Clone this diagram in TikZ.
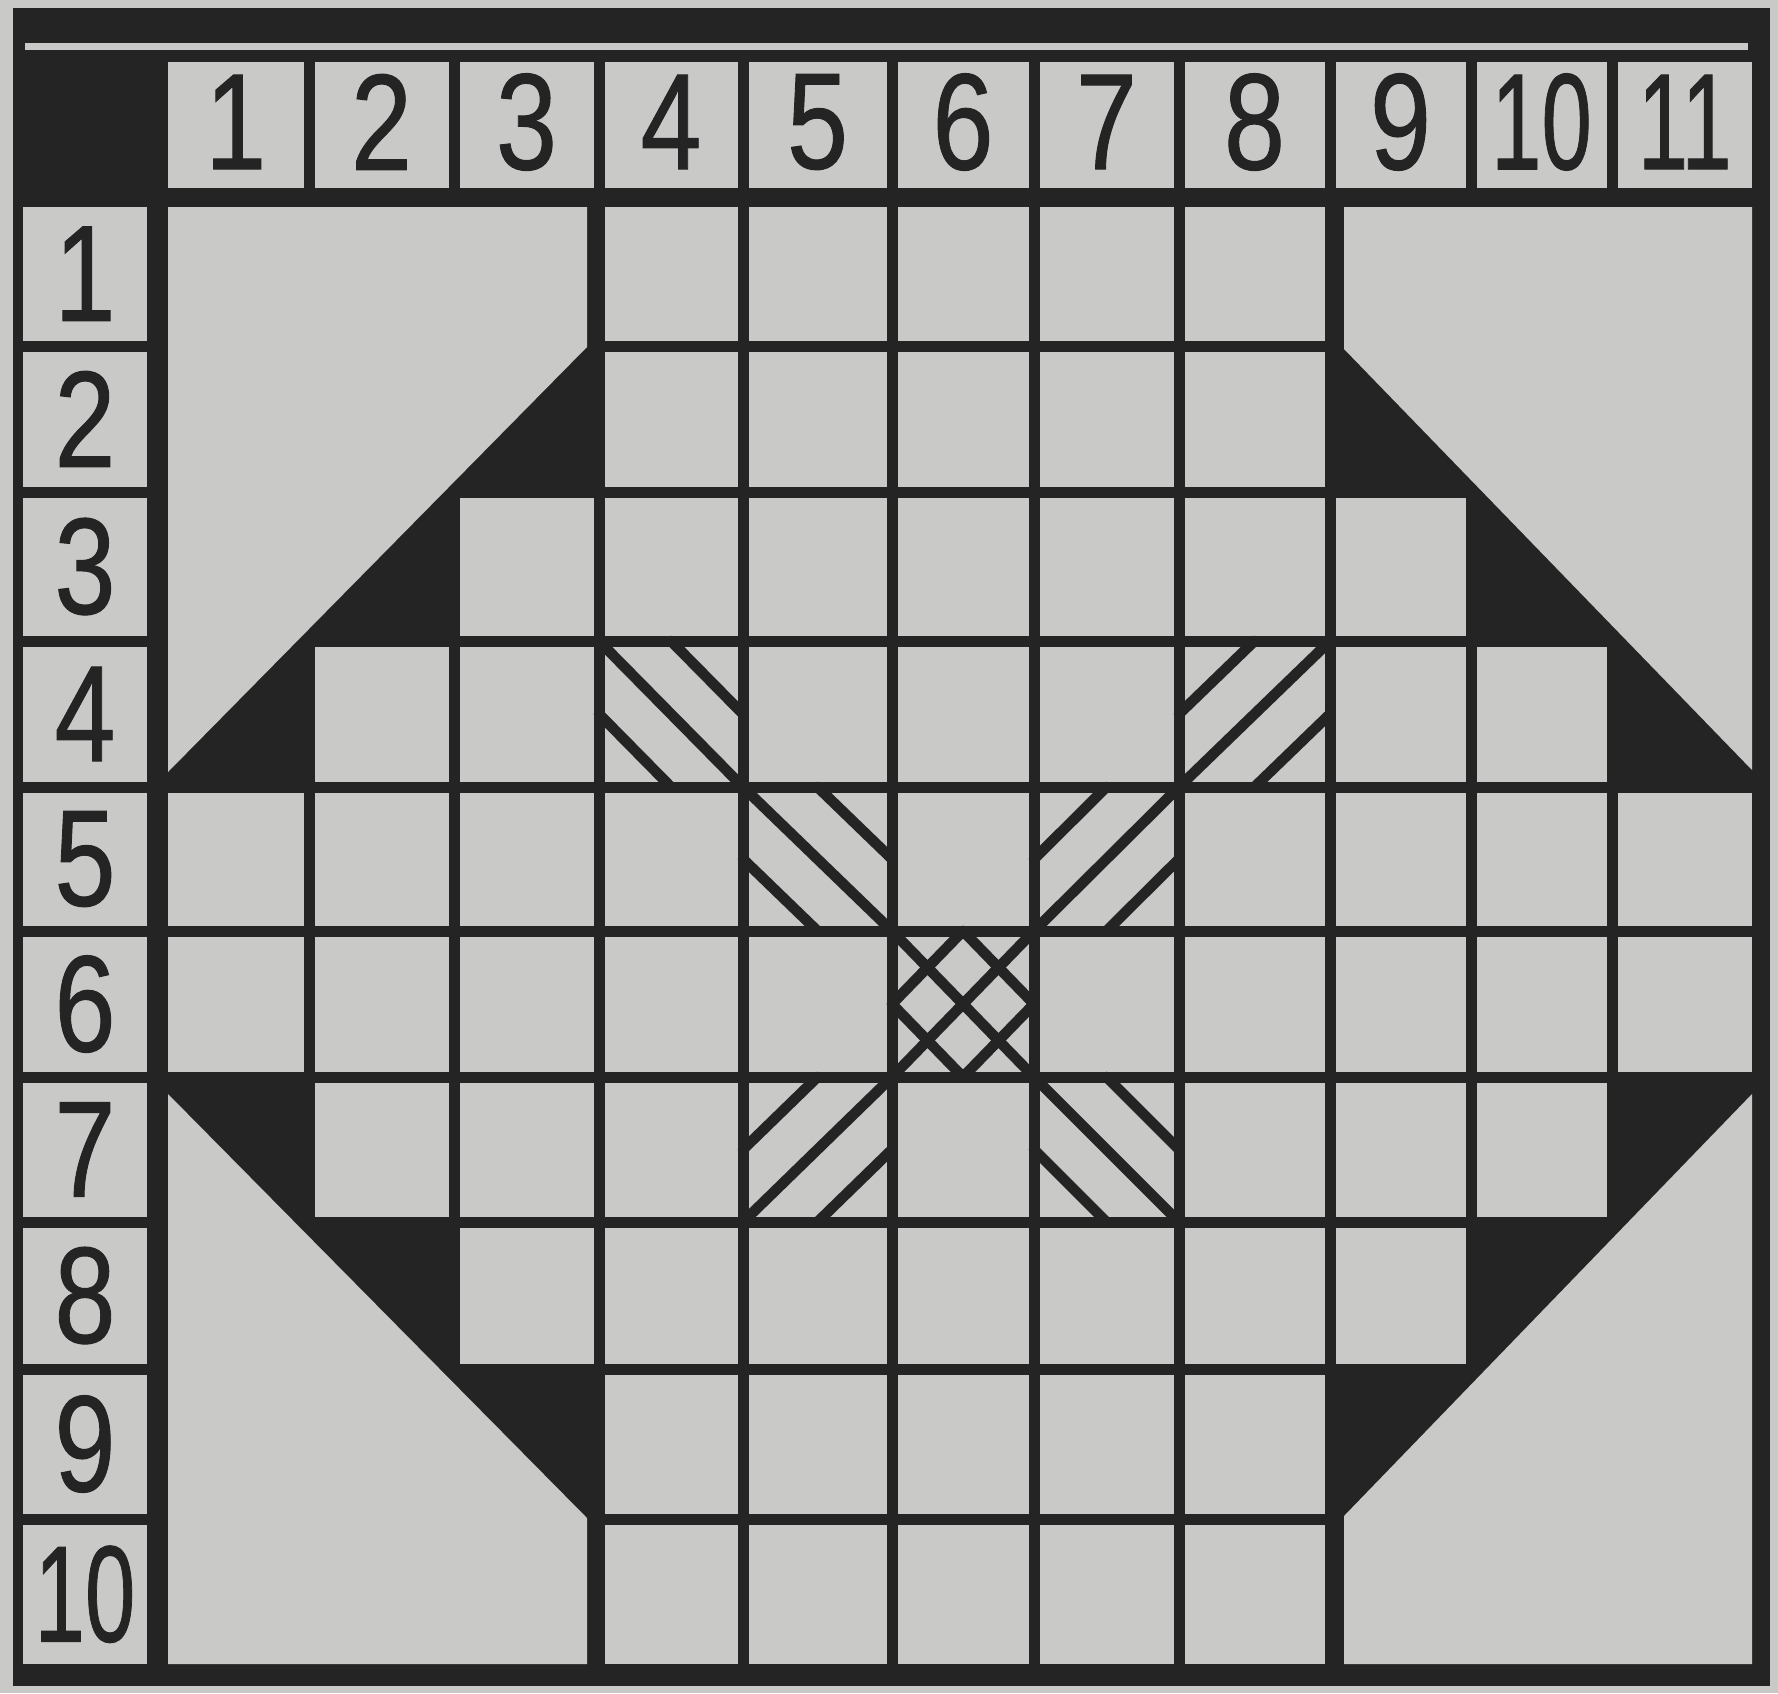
\documentclass[tikz,border=0pt]{standalone}
\usepackage{fontspec}
\usepackage{graphicx}
\usepackage{tikz}
\usetikzlibrary{calc}
\newfontfamily\digitfont[FakeBold=0.8]{Liberation Sans}
\definecolor{paper}{RGB}{201,201,199}
\definecolor{ink}{RGB}{36,36,36}
\tikzset{
  board/cell/.style={fill=paper},
  board/hatch/.style={draw=ink, line width=3pt, line cap=round},
  board/num/.style={inner sep=0pt, text=ink, font=\digitfont\fontsize{39}{39}\selectfont}
}
% corners of cell (row, column), taken from the grid coordinates
\newcommand{\cellcorners}[2]{%
  \pgfmathtruncatemacro{\hatchrow}{#1-1}%
  \pgfmathtruncatemacro{\hatchcol}{#2-1}%
  \coordinate (tl) at (g-\hatchrow-\hatchcol);
  \coordinate (tr) at (g-\hatchrow-#2);
  \coordinate (bl) at (g-#1-\hatchcol);
  \coordinate (br) at (g-#1-#2);
}
\newcommand{\backhatch}[2]{\cellcorners{#1}{#2}
  \draw[board/hatch] (tl) -- (br);
  \draw[board/hatch] ($(tl)!.5!(tr)$) -- ($(tr)!.5!(br)$);
  \draw[board/hatch] ($(tl)!.5!(bl)$) -- ($(bl)!.5!(br)$);
}
\newcommand{\slashhatch}[2]{\cellcorners{#1}{#2}
  \draw[board/hatch] (tr) -- (bl);
  \draw[board/hatch] ($(tl)!.5!(tr)$) -- ($(tl)!.5!(bl)$);
  \draw[board/hatch] ($(tr)!.5!(br)$) -- ($(bl)!.5!(br)$);
}

\begin{document}
\begin{tikzpicture}[x=0.01cm, y=-0.01cm]

\fill[paper] (0,0) rectangle (1778,1693);
\useasboundingbox (0,0) rectangle (1778,1693);

% frame
\fill[ink] (13,8) rectangle (1770,1686);
\fill[paper] (25,43) rectangle (1748,50);

% grid line centres
\foreach \cx [count=\j from 0] in {162.5,309,454,599,743,892,1034,1179,1330,1471,1612,1757.5}
  \coordinate (h-\j) at (\cx,0);
\foreach \ry [count=\i from 0] in {201.5,346,492,641,787,931,1077,1222,1369,1519,1669.5}
  \coordinate (v-\i) at (0,\ry);
\foreach \j in {0,...,11}
  \foreach \i in {0,...,10}
    \coordinate (g-\i-\j) at (h-\j |- v-\i);

% column numbers
\foreach \j in {1,...,11} {
  \pgfmathtruncatemacro{\jp}{\j-1}
  \pgfmathsetmacro{\sx}{\j>9 ? 0.66 : 0.8}
  \fill[board/cell] ($(h-\jp)+(5.5,62)$) rectangle ($(h-\j)+(-5.5,188)$);
  \node[board/num] (col-\j) at ($(h-\jp)!.5!(h-\j)+(0,122)$) {\scalebox{\sx}[1]{\j}};
}

% row numbers
\foreach \i in {1,...,10} {
  \pgfmathtruncatemacro{\ip}{\i-1}
  \pgfmathsetmacro{\sx}{\i>9 ? 0.66 : 0.8}
  \fill[board/cell] ($(v-\ip)+(23,5.5)$) rectangle ($(v-\i)+(147,-5.5)$);
  \node[board/num] (row-\i) at ($(v-\ip)!.5!(v-\i)+(85,0)$) {\scalebox{\sx}[1]{\i}};
}

% squares of the board
\foreach \i/\a/\b in {1/4/8,2/4/8,3/3/9,4/2/10,5/1/11,6/1/11,7/2/10,8/3/9,9/4/8,10/4/8} {
  \pgfmathtruncatemacro{\ip}{\i-1}
  \foreach \j in {\a,...,\b} {
    \pgfmathtruncatemacro{\jp}{\j-1}
    \fill[board/cell] ($(g-\ip-\jp)+(5.5,5.5)$) rectangle ($(g-\i-\j)+(-5.5,-5.5)$);
  }
}

% cut corners
\fill[board/cell] (168,207) -- (587,207) -- (587,347) -- (168,772) -- cycle;
\fill[board/cell] (1344,207) -- (1752,207) -- (1752,770) -- (1344,349) -- cycle;
\fill[board/cell] (168,1094) -- (587,1518) -- (587,1664) -- (168,1664) -- cycle;
\fill[board/cell] (1752,1094) -- (1344,1516) -- (1344,1664) -- (1752,1664) -- cycle;

% hatched squares
\backhatch{4}{4}
\backhatch{5}{5}
\backhatch{6}{6}
\slashhatch{6}{6}
\slashhatch{4}{8}
\slashhatch{5}{7}
\slashhatch{7}{5}
\backhatch{7}{7}

\end{tikzpicture}
\end{document}
